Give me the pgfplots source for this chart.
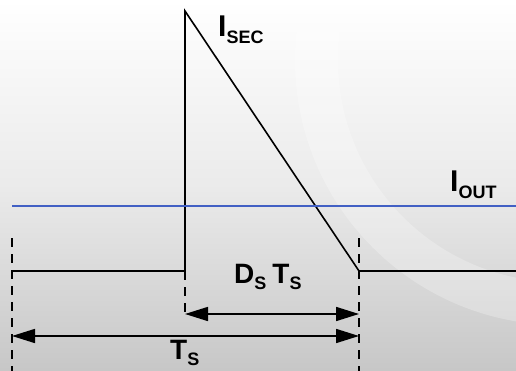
\documentclass[border=0pt]{standalone}
\usepackage{pgfplots}
\pgfplotsset{compat=1.18}
\usepackage{fontspec}
\setmainfont{Liberation Sans}
\usetikzlibrary{arrows.meta}
\definecolor{ioutblue}{RGB}{66,96,196}
\newcommand{\lbl}[3]{{\bfseries\fontsize{#1}{#1}\selectfont #2\raisebox{-6.5pt}{\fontsize{18}{18}\selectfont #3}}}
\begin{document}
\begin{tikzpicture}
\begin{axis}[
  at={(0,0)}, anchor=south west,
  scale only axis, width=516pt, height=371pt,
  xmin=0, xmax=516, ymin=0, ymax=371,
  y dir=reverse,
  hide axis, clip=true,
]
% background
\path[top color=white, bottom color=black!22, middle color=black!8] (axis cs:0,0) rectangle (axis cs:516,371);
\fill[white, opacity=0.25, even odd rule] (axis cs:560,60) circle[radius=265pt] (axis cs:560,60) circle[radius=222pt];
% I_SEC waveform
\addplot[black, line width=1.6pt, line join=miter] coordinates {(12,271) (185,271) (185,11) (359,271) (516,271)};
% I_OUT
\addplot[ioutblue, line width=1.6pt] coordinates {(12,206) (516,206)};
% dashed markers
\addplot[black, line width=1.1pt, dash pattern=on 9pt off 7pt] coordinates {(12,238) (12,371)};
\addplot[black, line width=1.1pt, dash pattern=on 9pt off 7pt] coordinates {(185,271) (185,318)};
\addplot[black, line width=1.1pt, dash pattern=on 9pt off 7pt] coordinates {(359,238) (359,371)};
% arrows
\addplot[black, line width=1.6pt, {Triangle[length=23pt,width=14pt]}-{Triangle[length=23pt,width=14pt]}] coordinates {(185,314) (359,314)};
\addplot[black, line width=1.6pt, {Triangle[length=23pt,width=14pt]}-{Triangle[length=23pt,width=14pt]}] coordinates {(12,336) (359,336)};
% labels
\node[anchor=base west, inner sep=0pt] at (axis cs:218,37) {\lbl{30}{I}{SEC}};
\node[anchor=base west, inner sep=0pt] at (axis cs:450,192) {\lbl{30}{I}{OUT}};
\node[anchor=base west, inner sep=0pt] at (axis cs:234,283) {\lbl{28}{D}{S}\hspace{6pt}\lbl{28}{T}{S}};
\node[anchor=base west, inner sep=0pt] at (axis cs:170,359) {\lbl{28}{T}{S}};
\end{axis}
\end{tikzpicture}
\end{document}
